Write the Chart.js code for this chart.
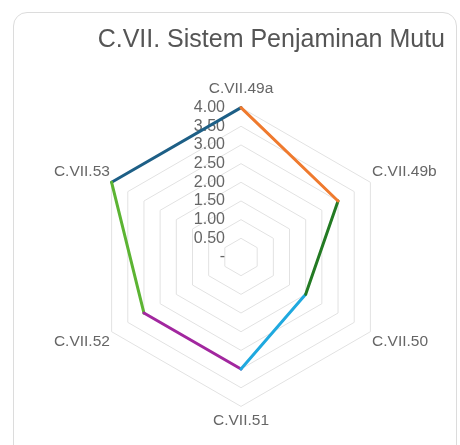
<!DOCTYPE html>
<html>
<head>
<meta charset="utf-8">
<script src="https://cdn.jsdelivr.net/npm/chart.js@4/dist/chart.umd.min.js"></script>
<style>
    html, body { margin: 0; padding: 0; background: #fff; }
    body { width: 460px; height: 445px; position: relative; overflow: hidden; }
    .card {
        position: absolute; left: 13px; top: 12px; width: 444px; height: 470px;
        border: 1px solid #dcdcdc; border-radius: 14px; box-sizing: border-box;
    }
    #wrap { position: absolute; left: 0; top: 0; width: 460px; height: 445px; }
</style>
</head>
<body>
<div class="card"></div>
<div id="wrap"><canvas id="radarChart"></canvas></div>
<script>
// Sistem Penjaminan Mutu scores
const labels = ["C.VII.49a", "C.VII.49b", "C.VII.50", "C.VII.51", "C.VII.52", "C.VII.53"];
const scores = [4, 3, 2, 3, 3, 4];
// colour of the edge that starts at each point
const edgeColors = ["#ef7a2e", "#237a23", "#1fa9df", "#a2279f", "#5cb433", "#1d5f86"];
const tickMin = 0;
const tickMax = 4;
const tickStep = 0.5;

const fmtTick = (v) => (Math.abs(v) < 1e-6 ? "-" : v.toFixed(2));

// one dataset per edge: only the two end points of that edge are kept
const n = scores.length;
const edgeSets = edgeColors.map((color, i) => ({
    data: scores.map((v, j) => (j === i || j === (i + 1) % n ? v : null)),
    borderColor: color,
    fill: false,
    spanGaps: false,
    borderWidth: 3,
    pointRadius: 0,
    pointHoverRadius: 0,
    borderCapStyle: "round",
}));

// tick labels sit to the left of the vertical axis, right aligned
const sideTicks = {
    id: "sideTicks",
    beforeDatasetsDraw(chart) {
        const scale = chart.scales.r;
        const ctx = chart.ctx;
        ctx.save();
        ctx.font = "16px 'Liberation Sans', Arial, sans-serif";
        ctx.fillStyle = "#666";
        ctx.textAlign = "right";
        ctx.textBaseline = "middle";
        scale.ticks.forEach((t) => {
            const d = scale.getDistanceFromCenterForValue(t.value);
            ctx.fillText(fmtTick(t.value), scale.xCenter - 16, scale.yCenter - d);
        });
        ctx.restore();
    },
};

const ctx = document.getElementById("radarChart").getContext("2d");
new Chart(ctx, {
    type: "radar",
    data: {
        labels: labels,
        datasets: edgeSets,
    },
    options: {
        responsive: true,
        maintainAspectRatio: false,
        animation: false,
        layout: { padding: { left: 48, right: 15, top: 0, bottom: 12 } },
        plugins: {
            legend: { display: false },
            tooltip: { enabled: false },
            title: {
                display: true,
                text: "C.VII. Sistem Penjaminan Mutu",
                align: "end",
                color: "#555",
                font: { family: "'Liberation Sans', Arial, sans-serif", size: 25, weight: "normal" },
                padding: { top: 25, bottom: 22 },
            },
        },
        scales: {
            r: {
                min: tickMin,
                max: tickMax,
                ticks: { display: false, stepSize: tickStep },
                angleLines: { display: false },
                grid: { color: "#e2e2e2", lineWidth: 1 },
                pointLabels: {
                    color: "#666",
                    padding: (c) => (c.index === 0 ? 10 : c.index === 3 ? 5 : 2),
                    font: { family: "'Liberation Sans', Arial, sans-serif", size: 15.5 },
                },
            },
        },
    },
    plugins: [sideTicks],
});
</script>
</body>
</html>
